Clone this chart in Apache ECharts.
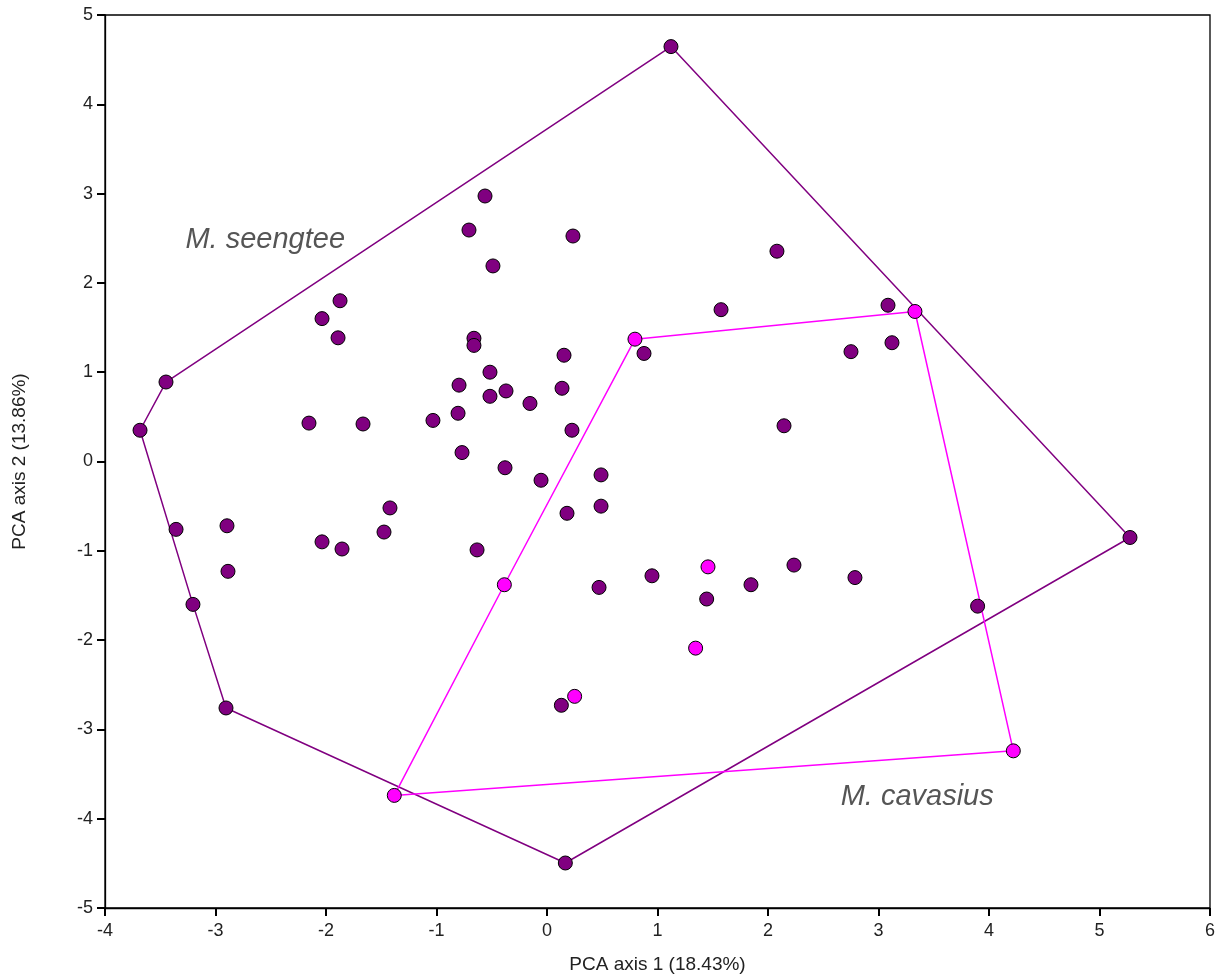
<!DOCTYPE html>
<html>
<head>
<meta charset="utf-8">
<script src="https://cdn.jsdelivr.net/npm/echarts@6/dist/echarts.min.js"></script>
<style>html,body{margin:0;padding:0;background:#fff;}#c{width:1222px;height:977px;}</style>
</head>
<body>
<div id="c"></div>
<script>
// M. seengtee points
const seengtee = [
  [1.122,4.646],[-0.561,2.973],[-0.706,2.592],[0.235,2.525],[-0.489,2.19],[2.081,2.355],
  [-1.873,1.80],[-2.036,1.60],[-1.891,1.385],[-0.661,1.38],[-0.661,1.30],[0.154,1.19],
  [0.878,1.21],[1.575,1.70],[3.086,1.75],[3.122,1.33],[2.751,1.23],[-3.448,0.89],
  [-3.683,0.35],[-2.154,0.43],[-1.665,0.42],[-1.032,0.46],[-0.796,0.855],[-0.805,0.54],
  [-0.516,1.00],[-0.516,0.73],[-0.371,0.79],[-0.154,0.65],[0.136,0.82],[0.226,0.35],
  [2.145,0.40],[-0.769,0.10],[-0.38,-0.07],[-0.054,-0.21],[0.489,-0.15],[0.489,-0.50],
  [0.181,-0.58],[-1.421,-0.52],[-1.475,-0.79],[-2.036,-0.90],[-1.855,-0.98],[-0.633,-0.99],
  [-3.357,-0.76],[-2.896,-0.72],[-2.887,-1.23],[-3.204,-1.60],[-2.905,-2.76],[0.166,-4.496],
  [5.276,-0.851],[3.897,-1.62],[0.95,-1.28],[0.471,-1.41],[1.445,-1.54],[1.846,-1.38],
  [2.235,-1.16],[2.787,-1.30],[0.13,-2.73]
];
// M. cavasius points
const cavasius = [
  [0.796,1.37],[3.33,1.68],[4.22,-3.24],[-1.382,-3.739],[-0.386,-1.38],
  [1.457,-1.18],[1.345,-2.09],[0.25,-2.63]
];
// convex hulls (closed)
const seengteeHull = [[1.122,4.646],[5.276,-0.851],[0.166,-4.496],[-2.905,-2.76],[-3.204,-1.60],[-3.683,0.35],[-3.448,0.89],[1.122,4.646]];
const cavasiusHull = [[0.796,1.37],[3.33,1.68],[4.22,-3.24],[-1.382,-3.739],[-0.386,-1.38],[0.796,1.37]];
// group labels
const groupLabels = [
  {name:'M. seengtee', value:[-2.55,2.485]},
  {name:'M. cavasius', value:[3.35,-3.76]}
];
const xTitle = 'PCA axis 1 (18.43%)';
const yTitle = 'PCA axis 2 (13.86%)';

const PURPLE = '#800080', MAGENTA = '#FF00FF';
const FONT = 'Liberation Sans, Arial, sans-serif';

const chart = echarts.init(document.getElementById('c'));
const axisCommon = {
  type:'value',
  splitLine:{show:false},
  axisLine:{show:true, onZero:false, lineStyle:{color:'#000', width:1.3}},
  axisTick:{show:true, inside:false, length:8, lineStyle:{color:'#000', width:2}},
  axisLabel:{color:'#222', fontSize:18, fontFamily:FONT},
  nameLocation:'middle',
  nameTextStyle:{color:'#222', fontSize:19, fontFamily:FONT}
};
chart.setOption({
  animation:false,
  backgroundColor:'#fff',
  grid:{left:105, top:15, right:12, bottom:69, containLabel:false, outerBoundsMode:'none',
    show:true, borderColor:'#000', borderWidth:1.3, backgroundColor:'transparent'},
  xAxis:Object.assign({}, axisCommon, {min:-4, max:6, interval:1, name:xTitle, nameGap:47,
    axisLabel:Object.assign({}, axisCommon.axisLabel, {margin:14})}),
  yAxis:Object.assign({}, axisCommon, {min:-5, max:5, interval:1, name:yTitle, nameGap:76, nameRotate:90,
    axisLabel:Object.assign({}, axisCommon.axisLabel, {margin:12})}),
  series:[
    {type:'line', data:seengteeHull, symbol:'none', lineStyle:{color:PURPLE, width:1.5}, z:2, silent:true},
    {type:'line', data:cavasiusHull, symbol:'none', lineStyle:{color:MAGENTA, width:1.5}, z:2, silent:true},
    {type:'scatter', data:seengtee, symbol:'circle', symbolSize:14,
      itemStyle:{color:PURPLE, borderColor:'#000', borderWidth:1, opacity:1}, z:3},
    {type:'scatter', data:cavasius, symbol:'circle', symbolSize:14,
      itemStyle:{color:MAGENTA, borderColor:'#000', borderWidth:1, opacity:1}, z:4},
    {type:'scatter', data:groupLabels, symbolSize:0, silent:true, z:5,
      label:{show:true, position:'inside', formatter:p=>p.name, color:'#2a2a2a', fontSize:29,
        fontStyle:'italic', fontFamily:FONT}}
  ]
});
</script>
</body>
</html>
